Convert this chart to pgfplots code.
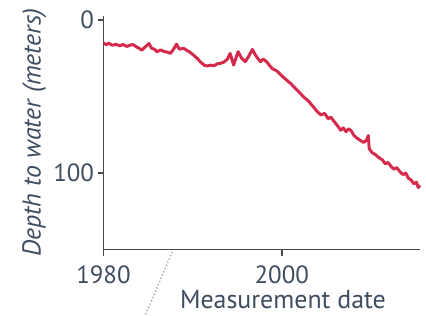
\documentclass[border=0pt]{standalone}
\usepackage{fontspec}
\setmainfont{PT Sans}
\usepackage{pgfplots}
\pgfplotsset{compat=1.18}
\definecolor{lc}{HTML}{D42A4C}
\definecolor{ax}{HTML}{4A4A4A}
\definecolor{tx}{HTML}{3E4D60}
\begin{document}
\begin{tikzpicture}
\useasboundingbox (-103.5bp,-66.5bp) rectangle (322.5bp,249.5bp);
\begin{axis}[
  scale only axis, width=316.5bp, height=234bp,
  xmin=1980, xmax=2015.5, ymin=-3, ymax=150, y dir=reverse,
  axis x line=bottom, axis y line=left,
  axis line style={-, ax, line width=2pt},
  tick style={ax, line width=1.4pt},
  tick align=outside, major tick length=6bp,
  xtick={1980,2000}, ytick={0,100},
  /pgf/number format/assume math mode=true,
  /pgf/number format/set thousands separator={},
  ticklabel style={font=\fontsize{25}{29}\selectfont, text=tx},
  xticklabel style={yshift=-7bp},
  xlabel={Measurement date},
  ylabel={\itshape Depth to water (meters)},
  label style={font=\fontsize{26}{30}\selectfont, text=tx},
  xlabel style={at={(ticklabel cs:0.567)}, anchor=near ticklabel, inner sep=0pt, yshift=-3bp},
  ylabel style={yshift=0bp},
  clip=false,
]
\addplot[lc, line width=3pt, line join=round] coordinates {
(1980.0,15.0) (1980.3,16.0) (1980.6,15.2) (1981.0,16.5) (1981.4,15.8) (1981.8,16.8)
(1982.2,16.0) (1982.6,17.2) (1983.0,16.4) (1983.3,16.0) (1983.7,17.5) (1984.0,18.5)
(1984.3,19.6) (1984.6,18.0) (1985.1,15.3) (1985.4,18.5) (1985.7,19.0) (1986.0,20.7)
(1986.4,19.5) (1986.8,20.5) (1987.2,21.0) (1987.5,21.8) (1987.8,19.5) (1988.2,15.7)
(1988.5,19.0) (1989.0,18.5) (1989.3,19.6) (1989.7,21.0) (1990.1,22.9) (1990.5,25.0)
(1990.9,27.5) (1991.3,29.5) (1991.6,30.0) (1992.0,29.5) (1992.4,29.8) (1992.8,28.5)
(1993.1,28.3) (1993.5,27.5) (1993.9,25.5) (1994.2,21.8) (1994.6,29.4) (1994.9,24.0)
(1995.1,20.7) (1995.5,25.0) (1995.9,27.2) (1996.3,23.5) (1996.7,19.2) (1997.0,22.5)
(1997.3,25.0) (1997.6,27.2) (1997.9,25.5) (1998.3,27.2) (1998.6,29.5) (1998.9,31.6)
(1999.5,33.5) (2000.0,36.5) (2000.5,39.0) (2001.0,41.5) (2001.5,44.5) (2002.0,47.5)
(2002.5,50.5) (2003.0,53.0) (2003.5,56.5) (2004.0,60.0) (2004.4,62.0) (2004.8,61.0)
(2005.2,64.5) (2005.5,63.5) (2005.9,66.5) (2006.3,69.5) (2006.6,72.0) (2006.9,70.5)
(2007.2,73.0) (2007.5,71.0) (2007.8,72.5) (2008.1,75.5) (2008.5,77.5) (2008.9,79.0)
(2009.2,80.0) (2009.5,78.5) (2009.7,75.5) (2009.8,84.0) (2010.1,86.5) (2010.5,88.0)
(2010.9,90.0) (2011.3,91.5) (2011.6,94.0) (2011.9,93.0) (2012.3,96.0) (2012.6,97.5)
(2012.9,96.5) (2013.3,99.5) (2013.6,101.0) (2013.9,100.0) (2014.2,103.5) (2014.5,104.5)
(2014.8,107.0) (2015.1,106.0) (2015.3,109.5) (2015.5,108.0)
};
\end{axis}
\draw[gray!75, line width=1.8pt, line cap=round, dash pattern=on 0pt off 3.5bp] (68.5bp,-3bp) -- (41.5bp,-66.5bp);
\end{tikzpicture}
\end{document}
